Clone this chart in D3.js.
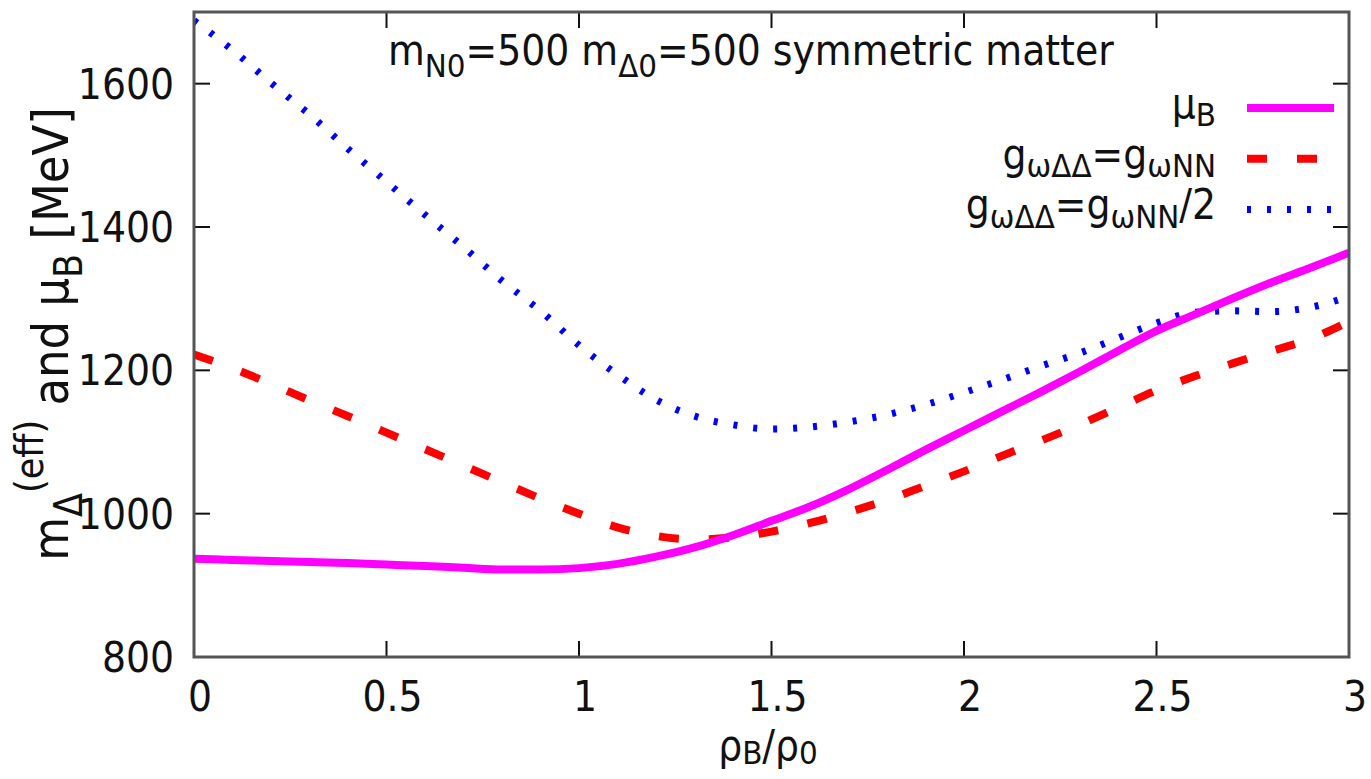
<!DOCTYPE html>
<meta charset="utf-8">
<style>
  body { margin: 0; background: #fff; }
  svg text { font-family: "DejaVu Sans Condensed", "DejaVu Sans", sans-serif; fill: #111; }
</style>
<body>
<div id="chart"></div>
<script src="https://d3js.org/d3.v7.min.js"></script>
<script>

// data (rho_B / rho_0 vs MeV)
var rho = [0, 0.1, 0.2, 0.3, 0.4, 0.5, 0.6, 0.7, 0.8, 0.9, 1.0,
           1.1, 1.2, 1.3, 1.4, 1.5, 1.6, 1.7, 1.8, 1.9, 2.0,
           2.1, 2.2, 2.3, 2.4, 2.5, 2.6, 2.7, 2.8, 2.9, 3.0];

var muB = [937, 935.5, 934, 932.5, 931, 929, 927, 924.5, 922, 922, 924,
           930, 940, 953, 970, 990, 1010, 1034, 1061, 1089, 1116,
           1143, 1170, 1198, 1227, 1255, 1278, 1301, 1323, 1343, 1364];

var mDeltaFull = [1222, 1203, 1181, 1158, 1136, 1113, 1090, 1067, 1044, 1021, 1000,
                  981, 969, 964, 967, 975, 987, 1002, 1019, 1039, 1059,
                  1081, 1102, 1124, 1148, 1172, 1192, 1210, 1227, 1244, 1268];

var mDeltaHalf = [1688, 1647, 1601, 1557, 1509, 1463, 1417, 1372, 1325, 1283, 1235,
                  1194, 1159, 1136, 1124, 1118, 1121, 1128, 1138, 1152, 1169,
                  1187, 1206, 1224, 1245, 1266, 1281, 1283, 1282, 1288, 1303];

var xTicks = [0, 0.5, 1, 1.5, 2, 2.5, 3];
var yTicks = [800, 1000, 1200, 1400, 1600];

var W = 1371, H = 779;
var margin = {top: 12, right: 22, bottom: 122, left: 194},
    width = W - margin.left - margin.right,
    height = H - margin.top - margin.bottom;

var x = d3.scaleLinear().domain([0, 3]).range([0, width]);
var y = d3.scaleLinear().domain([800, 1700]).range([height, 0]);

var svg = d3.select("#chart").append("svg")
    .attr("width", W)
    .attr("height", H);

var g = svg.append("g")
    .attr("transform", "translate(" + margin.left + "," + margin.top + ")");

// text with sub/superscripts
function rich(sel, parts, fs, sub) {
  var shift = 0;
  sub = sub || 0.28;
  parts.forEach(function(p) {
    var target = p[1] == "sub" ? sub * fs : (p[1] == "sup" ? -0.5 * fs : 0);
    sel.append("tspan")
      .attr("dy", target - shift)
      .attr("font-size", p[1] ? fs * 0.78 : fs)
      .text(p[0]);
    shift = target;
  });
}

g.append("clipPath").attr("id", "clip")
  .append("rect").attr("width", width).attr("height", height);

// curves
var line = d3.line()
    .x(function(d) { return x(d[0]); })
    .y(function(d) { return y(d[1]); })
    .curve(d3.curveMonotoneX);

var series = [
  {vals: mDeltaHalf, color: "#0000ff", dash: "4,16", w: 7},
  {vals: mDeltaFull, color: "#ff0000", dash: "20,30", w: 8},
  {vals: muB, color: "#ff00ff", dash: null, w: 8}
];

series.forEach(function(s) {
  g.append("path")
    .datum(rho.map(function(r, i) { return [r, s.vals[i]]; }))
    .attr("clip-path", "url(#clip)")
    .attr("fill", "none")
    .attr("stroke", s.color)
    .attr("stroke-width", s.w)
    .attr("stroke-dasharray", s.dash)
    .attr("d", line);
});

// axes: gnuplot style, ticks inside on all four sides
var tl = 16;
var ax = g.append("g").attr("stroke", "#111").attr("stroke-width", 2);
xTicks.forEach(function(t) {
  ax.append("line").attr("x1", x(t)).attr("x2", x(t)).attr("y1", height).attr("y2", height - tl);
  ax.append("line").attr("x1", x(t)).attr("x2", x(t)).attr("y1", 0).attr("y2", tl);
});
yTicks.forEach(function(t) {
  ax.append("line").attr("x1", 0).attr("x2", tl).attr("y1", y(t)).attr("y2", y(t));
  ax.append("line").attr("x1", width).attr("x2", width - tl).attr("y1", y(t)).attr("y2", y(t));
});

g.append("rect")
  .attr("width", width).attr("height", height)
  .attr("fill", "none").attr("stroke", "#555").attr("stroke-width", 3);

var fs = 42;
g.selectAll(".xlab").data(xTicks).enter().append("text")
  .attr("class", "xlab")
  .attr("x", function(d) { return x(d) + 6; })
  .attr("y", height + 54)
  .attr("text-anchor", "middle")
  .attr("font-size", fs)
  .text(function(d) { return d; });

g.selectAll(".ylab").data(yTicks).enter().append("text")
  .attr("class", "ylab")
  .attr("x", -20)
  .attr("y", function(d) { return y(d) + 15; })
  .attr("text-anchor", "end")
  .attr("font-size", fs)
  .text(function(d) { return d; });

// axis titles
var xt = svg.append("text")
  .attr("x", 768).attr("y", 760)
  .attr("text-anchor", "middle");
rich(xt, [["ρ"], ["B", "sub"], ["/ρ"], ["0", "sub"]], 42, 0.1);

var yt = svg.append("text")
  .attr("transform", "translate(68,334) rotate(-90)")
  .attr("text-anchor", "middle");
rich(yt, [["m"], ["Δ", "sub"], ["(eff)", "sup"], [" and μ"], ["B", "sub"], [" [MeV]"]], 50);

// title
var tt = svg.append("text")
  .attr("x", 388).attr("y", 65);
rich(tt, [["m"], ["N0", "sub"], ["=500 m"], ["Δ0", "sub"], ["=500 symmetric matter"]], 42);

// legend
var legend = [
  {parts: [["μ"], ["B", "sub"]], color: "#ff00ff", dash: null, w: 8},
  {parts: [["g"], ["ωΔΔ", "sub"], ["=g"], ["ωNN", "sub"]], color: "#ff0000", dash: "20,30", w: 8},
  {parts: [["g"], ["ωΔΔ", "sub"], ["=g"], ["ωNN", "sub"], ["/2"]], color: "#0000ff", dash: "4,16", w: 7}
];
legend.forEach(function(l, i) {
  var ly = 108 + i * 50.7;
  var t = svg.append("text")
    .attr("x", 1216).attr("y", ly + 10)
    .attr("text-anchor", "end");
  rich(t, l.parts, 42, 0.2);
  svg.append("line")
    .attr("x1", 1247).attr("x2", 1334)
    .attr("y1", ly).attr("y2", ly)
    .attr("stroke", l.color)
    .attr("stroke-width", l.w)
    .attr("stroke-dasharray", l.dash);
});

</script>
</body>
